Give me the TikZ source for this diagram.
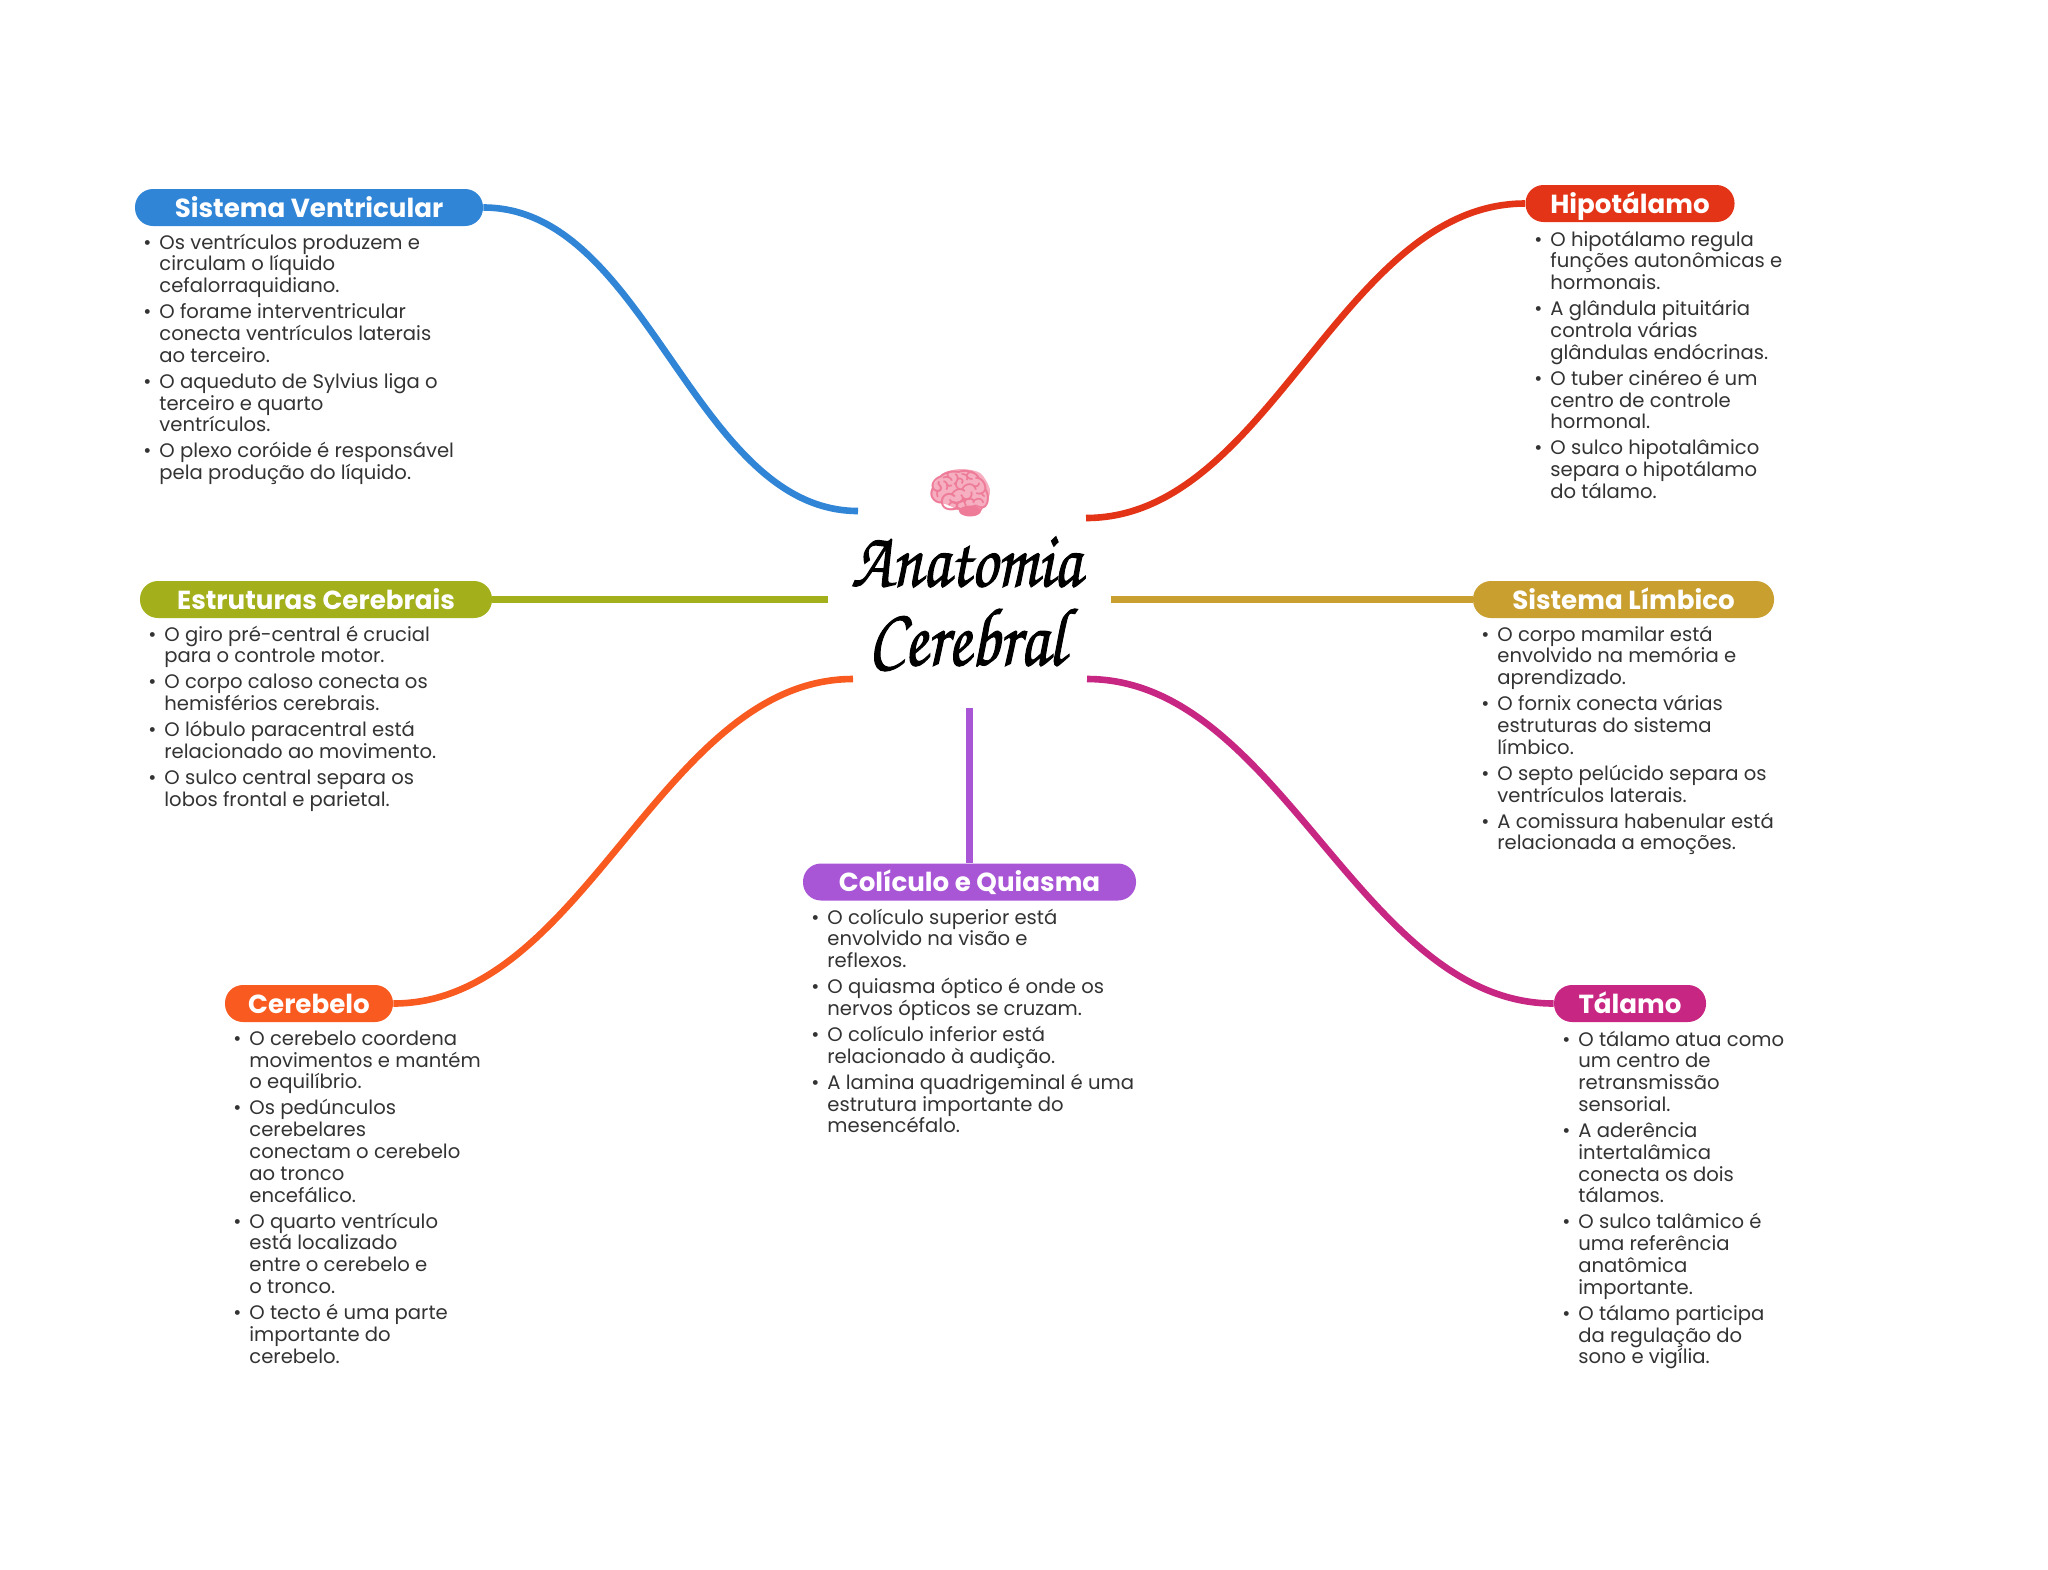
\documentclass[tikz,border=0pt]{standalone}
\usepackage{fontspec}
\setmainfont{Poppins}
\newfontfamily\chorusfont[FakeStretch=0.82,FakeBold=1.2]{TeX Gyre Chorus}
\newfontfamily\emojifont{Noto Emoji}
\usepackage{xcolor}
\usetikzlibrary{shapes,positioning,calc}

\definecolor{ventblue}{HTML}{3085D6}
\definecolor{hipored}{HTML}{E43418}
\definecolor{estrolive}{HTML}{A3B01C}
\definecolor{limbgold}{HTML}{C9A02F}
\definecolor{colipurple}{HTML}{A855D6}
\definecolor{cereorange}{HTML}{F95A20}
\definecolor{talamagenta}{HTML}{C72683}
\definecolor{notegray}{HTML}{333333}
\definecolor{brainpink}{HTML}{F5AFC0}
\definecolor{braindark}{HTML}{EE7C99}

\newcommand{\tightlines}{\lineskiplimit=-20pt\relax}
\tikzset{
  topic/.style={rounded corners=9pt, fill=#1, text=white, inner sep=0pt,
    minimum height=18.5pt, text height=10.5pt, text depth=1pt,
    font=\bfseries\fontsize{13.07}{14}\selectfont},
  notes/.style={anchor=north west, align=left, inner sep=0pt, text=notegray,
    font=\fontsize{9.8}{10.9}\selectfont\tightlines},
  titletext/.style={inner sep=0pt, font=\chorusfont\fontsize{#1}{40}\selectfont},
  branch/.style={line width=3.3pt, draw=#1},
  scurve/.style={looseness=0.87},
}
\newcommand{\tp}{\llap{\textbullet\hspace{4pt}}}
\newcommand{\nx}{\\[2.1pt]}

\begin{document}
\begin{tikzpicture}[x=0.5pt,y=-0.5pt]
\useasboundingbox (0,0) rectangle (2048,1569);

% Centre title
\node[titletext=40] (titleA) at (966,562) {Anatomia};
\node[titletext=41.5] (titleB) at (966.5,640) {Cerebral};

% Brain
\fill[brainpink] plot[smooth cycle] coordinates {(931,490) (942,474) (960,469) (980,473) (990,490) (985,505) (972,516) (960,511) (948,505) (936,501)};
\fill[braindark] (970,511) ellipse (11 and 5.5);
\node[inner sep=0pt] (brain) at (960,493) {\emojifont\fontsize{26.5}{28}\selectfont\textcolor{braindark}{🧠}};

% Free ends of the branches
\coordinate (endvent) at (858,511);
\coordinate (endhipo) at (1086,518);
\coordinate (endestr) at (828,599.5);
\coordinate (endlimb) at (1111,599.5);
\coordinate (endcere) at (853,679);
\coordinate (endtala) at (1087,679);
\coordinate (endcoli) at (969.5,708);

% Topics
\node[topic=ventblue, minimum width=174pt] (vent) at (309,207.5) {Sistema Ventricular};
\node[topic=hipored, minimum width=104.5pt] (hipo) at (1630,203.5) {Hipotálamo};
\node[topic=estrolive, minimum width=176pt] (estr) at (316,599.5) {Estruturas Cerebrais};
\node[topic=limbgold, minimum width=150.5pt] (limb) at (1623.5,599.5) {Sistema Límbico};
\node[topic=colipurple, minimum width=166.5pt] (coli) at (969.5,882) {Colículo e Quiasma};
\node[topic=cereorange, minimum width=84pt] (cere) at (309,1003.5) {Cerebelo};
\node[topic=talamagenta, minimum width=76pt] (tala) at (1630,1003.5) {Tálamo};

% Branches
\draw[branch=ventblue] (vent.east) to[out=0,in=180,scurve] (endvent);
\draw[branch=hipored] (hipo.west) to[out=180,in=0,scurve] (endhipo);
\draw[branch=estrolive] (estr.east) -- (endestr);
\draw[branch=limbgold] (limb.west) -- (endlimb);
\draw[branch=cereorange] (cere.east) to[out=0,in=180,scurve] (endcere);
\draw[branch=talamagenta] (tala.west) to[out=180,in=0,scurve] (endtala);
\draw[branch=colipurple] (coli.north) -- (endcoli);

% Notes
\node[notes] (ventnotes) at (159,233.3) {\tp Os ventrículos produzem e\\circulam o líquido\\cefalorraquidiano.\nx
\tp O forame interventricular\\conecta ventrículos laterais\\ao terceiro.\nx
\tp O aqueduto de Sylvius liga o\\terceiro e quarto\\ventrículos.\nx
\tp O plexo coróide é responsável\\pela produção do líquido.};

\node[notes] (hiponotes) at (1550,230.3) {\tp O hipotálamo regula\\funções autonômicas e\\hormonais.\nx
\tp A glândula pituitária\\controla várias\\glândulas endócrinas.\nx
\tp O tuber cinéreo é um\\centro de controle\\hormonal.\nx
\tp O sulco hipotalâmico\\separa o hipotálamo\\do tálamo.};

\node[notes] (estrnotes) at (164,625.3) {\tp O giro pré-central é crucial\\para o controle motor.\nx
\tp O corpo caloso conecta os\\hemisférios cerebrais.\nx
\tp O lóbulo paracentral está\\relacionado ao movimento.\nx
\tp O sulco central separa os\\lobos frontal e parietal.};

\node[notes] (limbnotes) at (1497,625.3) {\tp O corpo mamilar está\\envolvido na memória e\\aprendizado.\nx
\tp O fornix conecta várias\\estruturas do sistema\\límbico.\nx
\tp O septo pelúcido separa os\\ventrículos laterais.\nx
\tp A comissura habenular está\\relacionada a emoções.};

\node[notes] (colinotes) at (827,908.3) {\tp O colículo superior está\\envolvido na visão e\\reflexos.\nx
\tp O quiasma óptico é onde os\\nervos ópticos se cruzam.\nx
\tp O colículo inferior está\\relacionado à audição.\nx
\tp A lamina quadrigeminal é uma\\estrutura importante do\\mesencéfalo.};

\node[notes] (cerenotes) at (249,1030.3) {\tp O cerebelo coordena\\movimentos e mantém\\o equilíbrio.\nx
\tp Os pedúnculos\\cerebelares\\conectam o cerebelo\\ao tronco\\encefálico.\nx
\tp O quarto ventrículo\\está localizado\\entre o cerebelo e\\o tronco.\nx
\tp O tecto é uma parte\\importante do\\cerebelo.};

\node[notes] (talanotes) at (1578,1030.3) {\tp O tálamo atua como\\um centro de\\retransmissão\\sensorial.\nx
\tp A aderência\\intertalâmica\\conecta os dois\\tálamos.\nx
\tp O sulco talâmico é\\uma referência\\anatômica\\importante.\nx
\tp O tálamo participa\\da regulação do\\sono e vigília.};
\end{tikzpicture}
\end{document}
